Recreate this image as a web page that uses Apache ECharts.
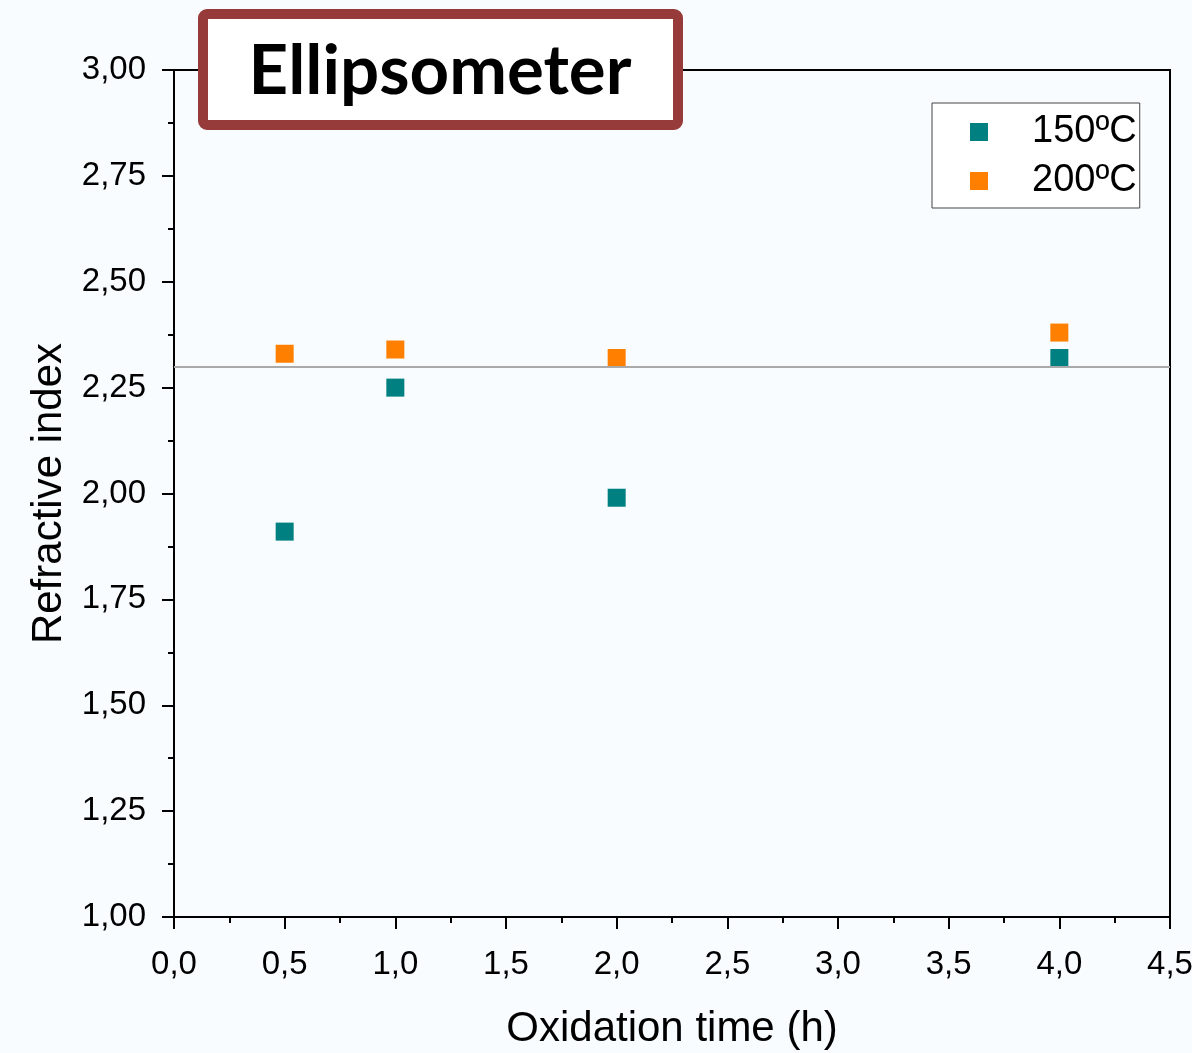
<!DOCTYPE html>
<html>
<head>
<meta charset="utf-8">
<script src="https://cdn.jsdelivr.net/npm/echarts@6/dist/echarts.min.js"></script>
<style>
    html, body { margin: 0; padding: 0; background: #f8fcfe; }
    #chart { width: 1192px; height: 1053px; }
</style>
</head>
<body>
<div id="chart"></div>
<script>
    // data
    var times = [0.5, 1.0, 2.0, 4.0];
    var n150 = [1.91, 2.25, 1.99, 2.32];
    var n200 = [2.33, 2.34, 2.32, 2.38];
    var refLine = 2.30;
    var seriesNames = ['150ºC', '200ºC'];

    function comma(v, d) {
        return v.toFixed(d).replace('.', ',');
    }
    function pairs(xs, ys) {
        return xs.map(function (x, i) { return [x, ys[i]]; });
    }

    var chart = echarts.init(document.getElementById('chart'));
    var axisFont = { fontFamily: 'Liberation Sans, Arial', color: '#000' };

    var option = {
        backgroundColor: '#f8fcfe',
        animation: false,
        grid: {
            left: 174, right: 22, top: 70, bottom: 136,
            outerBoundsMode: 'none', containLabel: false,
            show: true, borderColor: '#000', borderWidth: 2, backgroundColor: 'transparent'
        },
        legend: {
            orient: 'vertical',
            left: 932, top: 103,
            padding: [10, 3, 8, 38],
            backgroundColor: '#fff',
            borderColor: '#444', borderWidth: 1,
            itemWidth: 18, itemHeight: 18, itemGap: 11,
            icon: 'rect',
            data: seriesNames,
            textStyle: { fontFamily: 'Liberation Sans, Arial', fontSize: 38, color: '#000', padding: [0, 0, 0, 39] }
        },
        xAxis: {
            type: 'value', min: 0, max: 4.5, interval: 0.5,
            name: 'Oxidation time (h)', nameLocation: 'middle', nameGap: 91,
            nameTextStyle: Object.assign({ fontSize: 42 }, axisFont),
            axisLine: { show: true, lineStyle: { color: '#000', width: 2 } },
            axisTick: { show: true, length: 12, lineStyle: { color: '#000', width: 2 } },
            minorTick: { show: true, splitNumber: 2, length: 6, lineStyle: { color: '#000', width: 2 } },
            splitLine: { show: false },
            axisLabel: Object.assign({ fontSize: 33, margin: 31, formatter: function (v) { return comma(v, 1); } }, axisFont)
        },
        yAxis: {
            type: 'value', min: 1, max: 3, interval: 0.25,
            name: 'Refractive index', nameLocation: 'middle', nameGap: 102,
            nameTextStyle: Object.assign({ fontSize: 42 }, axisFont),
            axisLine: { show: true, lineStyle: { color: '#000', width: 2 } },
            axisTick: { show: true, length: 12, lineStyle: { color: '#000', width: 2 } },
            minorTick: { show: true, splitNumber: 2, length: 6, lineStyle: { color: '#000', width: 2 } },
            splitLine: { show: false },
            axisLabel: Object.assign({ fontSize: 33, margin: 28, formatter: function (v) { return comma(v, 2); } }, axisFont)
        },
        series: [{
            name: seriesNames[0],
            type: 'scatter',
            symbol: 'rect', symbolSize: 18,
            itemStyle: { color: '#008080', opacity: 1 },
            data: pairs(times, n150),
            markLine: {
                silent: true, symbol: 'none', label: { show: false },
                lineStyle: { color: '#aaaaaa', width: 2, type: 'solid' },
                data: [{ yAxis: refLine }]
            },
            z: 3
        }, {
            name: seriesNames[1],
            type: 'scatter',
            symbol: 'rect', symbolSize: 18,
            itemStyle: { color: '#ff8000', opacity: 1 },
            data: pairs(times, n200),
            z: 3
        }],
        graphic: [{
            type: 'group',
            z: 100,
            children: [{
                type: 'rect',
                shape: { x: 203, y: 14, width: 475, height: 111, r: 4 },
                style: { fill: '#fff', stroke: '#963a3a', lineWidth: 10 }
            }, {
                type: 'text',
                x: 440, y: 72,
                style: {
                    text: 'Ellipsometer', fill: '#000',
                    font: 'bold 69px Lato, "Open Sans", sans-serif',
                    textAlign: 'center', textVerticalAlign: 'middle'
                }
            }]
        }]
    };
    chart.setOption(option);
</script>
</body>
</html>
